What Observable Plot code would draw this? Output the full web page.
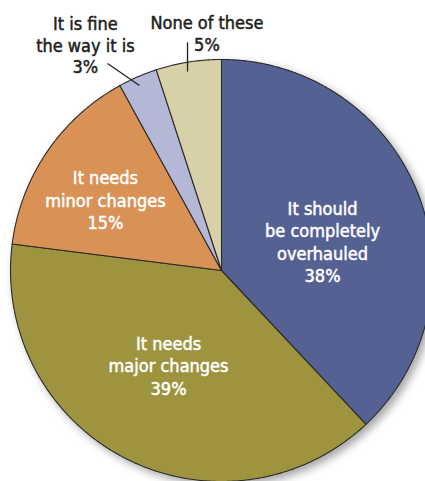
<!DOCTYPE html>
<html>
<head>
<meta charset="utf-8">
<script src="https://cdn.jsdelivr.net/npm/d3@7"></script>
<script src="https://cdn.jsdelivr.net/npm/@observablehq/plot@0.6"></script>
<style>
  html, body { margin: 0; padding: 0; background: #fff; }
  #chart svg { display: block; }
</style>
</head>
<body>
<div id="chart"></div>
<script>
// ---- data ----
const categories = [
  "It should be completely overhauled",
  "It needs major changes",
  "It needs minor changes",
  "It is fine the way it is",
  "None of these"
];
const values = [38, 39, 15, 3, 5];
const sliceColors = ["#556193", "#9e9440", "#d99156", "#b4b7d6", "#d8d1a7"];
const labelLines = [
  ["It should", "be completely", "overhauled"],
  ["It needs", "major changes"],
  ["It needs", "minor changes"],
  ["It is fine", "the way it is"],
  ["None of these"]
];
// label anchor positions in pie units (radius = 1, centre = 0,0)
const labelX = [0.479, -0.251, -0.550, -0.645, -0.069];
const labelY = [0.139, -0.447, 0.336, 1.070, 1.126];
const labelInside = [true, true, true, false, false];
// leader lines (pie units)
const leaders = [
  {x1: -0.540, y1: 0.981, x2: -0.389, y2: 0.877},
  {x1: -0.161, y1: 1.081, x2: -0.161, y2: 0.943}
];

// ---- layout ----
const W = 425, H = 481;
const cx = 221, cy = 270, R = 211;

// ---- build slice outlines from the values ----
const total = d3.sum(values);
const pts = [];
let acc = 0;
values.forEach((v, i) => {
  const a0 = acc / total * 2 * Math.PI;
  acc += v;
  const a1 = acc / total * 2 * Math.PI;
  const n = Math.max(2, Math.ceil((a1 - a0) / (Math.PI / 360)));
  pts.push({k: categories[i], x: 0, y: 0});
  for (let j = 0; j <= n; j++) {
    const a = a0 + (a1 - a0) * j / n;
    pts.push({k: categories[i], x: Math.sin(a), y: Math.cos(a)});
  }
  pts.push({k: categories[i], x: 0, y: 0});
});

const labels = categories.map((c, i) => ({
  text: labelLines[i].join("\n") + "\n" + values[i] + "%",
  x: labelX[i], y: labelY[i], inside: labelInside[i]
}));

const chart = Plot.plot({
  width: W, height: H,
  margin: 0,
  x: {domain: [-cx / R, (W - cx) / R], axis: null},
  y: {domain: [-(H - cy) / R, cy / R], axis: null},
  color: {domain: categories, range: sliceColors},
  style: {fontFamily: "'DejaVu Sans Condensed', 'Liberation Sans Narrow', sans-serif"},
  marks: [
    Plot.line(pts, {x: "x", y: "y", z: "k", fill: "k", stroke: "#2b2b2b", strokeWidth: 1.1, strokeLinejoin: "round"}),
    Plot.text(labels.filter(d => d.inside), {x: "x", y: "y", text: "text", fill: "white", stroke: "white", strokeWidth: 0.5, fontSize: 18, lineHeight: 1.25, textAnchor: "middle", lineAnchor: "middle"}),
    Plot.text(labels.filter(d => !d.inside), {x: "x", y: "y", text: "text", fill: "#231f20", stroke: "#231f20", strokeWidth: 0.5, fontSize: 18, lineHeight: 1.2, textAnchor: "middle", lineAnchor: "middle"}),
    Plot.link(leaders, {x1: "x1", y1: "y1", x2: "x2", y2: "y2", stroke: "#231f20", strokeWidth: 1.3})
  ]
});

d3.select(chart).select("g[aria-label=line]")
  .style("filter", "drop-shadow(4px 4px 4px rgba(0,0,0,0.35))");

document.getElementById("chart").appendChild(chart);
</script>
</body>
</html>
